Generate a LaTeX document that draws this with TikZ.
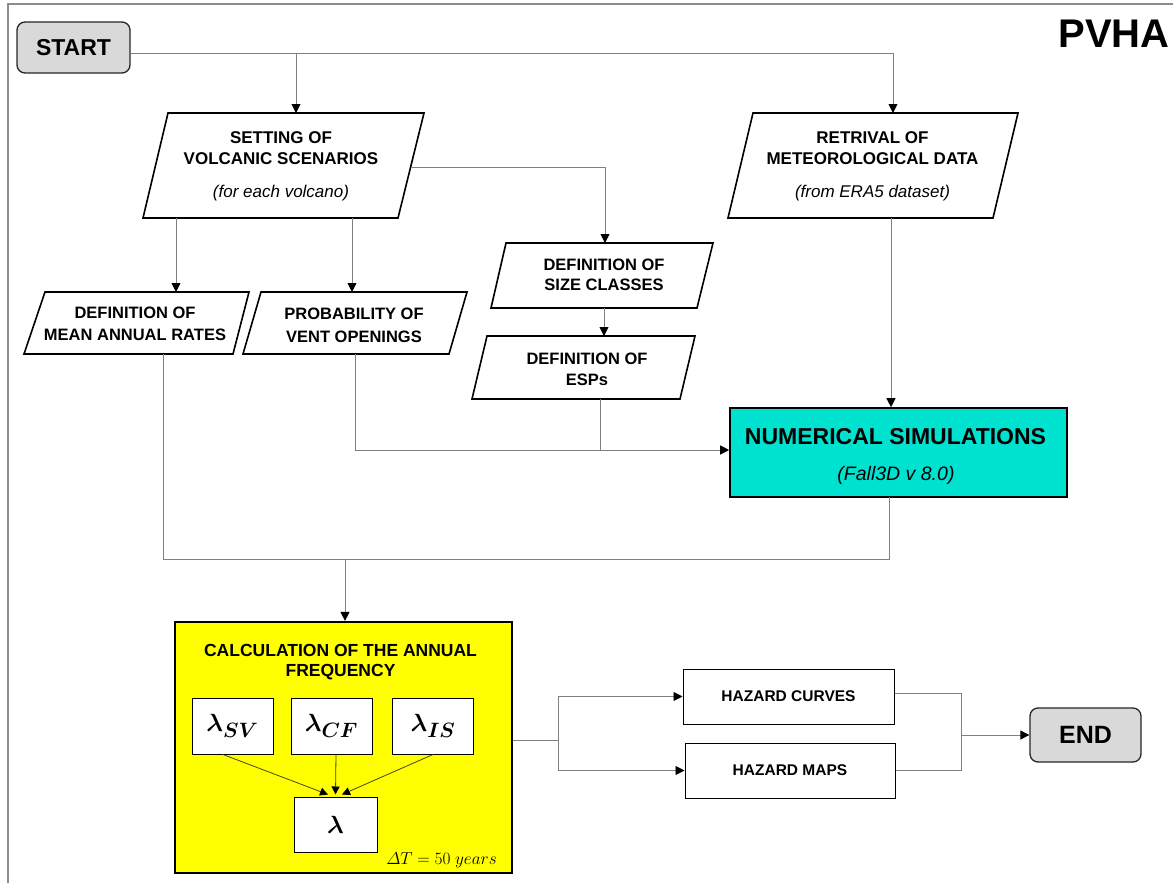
\documentclass[tikz,border=0pt]{standalone}
\usepackage{fontspec}
\setmainfont{Liberation Sans}
\usepackage{amsmath,bm}
\usetikzlibrary{arrows.meta}
\definecolor{linegray}{RGB}{128,128,128}
\definecolor{framegray}{RGB}{140,140,140}
\definecolor{boxgray}{RGB}{217,217,217}
\definecolor{turq}{RGB}{0,226,208}
\definecolor{yel}{RGB}{255,255,0}
\definecolor{olive}{RGB}{70,70,20}
\tikzset{
  conn/.style={draw=linegray, line width=0.9pt},
  arr/.style={conn, -{Triangle[length=9pt,width=9pt,color=black]}},
  iarr/.style={draw=olive, line width=0.8pt, -{Triangle[length=8pt,width=8pt,color=black]}},
  para/.style={draw=black, line width=1.6pt, line join=miter, fill=white},
  ttl/.style={align=center, inner sep=0pt, font=\bfseries\fontsize{17}{21}\selectfont},
  sub/.style={inner sep=0pt, font=\itshape\fontsize{17}{21}\selectfont},
  term/.style={draw=black!85, line width=1.3pt, fill=boxgray, rounded corners=8pt, inner sep=0pt, font=\bfseries\fontsize{23}{26}\selectfont},
  hbox/.style={draw=black, line width=1pt, fill=white, minimum width=210pt, minimum height=55pt, inner sep=0pt, font=\bfseries\fontsize{15.5}{18}\selectfont},
  lbox/.style={draw=black, line width=1pt, fill=white, minimum width=81pt, minimum height=56pt, inner sep=0pt, font=\fontsize{29}{32}\selectfont}
}
\begin{document}
\begin{tikzpicture}[x=1pt,y=-1pt]
\useasboundingbox (0,0) rectangle (1173,883);
% frame
\draw[framegray, line width=1.3pt] (8,883) -- (8,4) -- (1173,4);
% title
\node[inner sep=0pt, font=\bfseries\fontsize{40}{44}\selectfont] (pvha) at (1114,34) {PVHA};
% start
\node[term, minimum width=113pt, minimum height=51pt] (start) at (73.5,47.5) {START};
% setting parallelogram
\draw[para] (168,113) -- (424,113) -- (398,218) -- (143,218) -- cycle;
\node[ttl] (set) at (281,148.5) {SETTING OF\\VOLCANIC SCENARIOS};
\node[sub] (setsub) at (281,193) {(for each volcano)};
% retrival
\draw[para] (753,113) -- (1018,113) -- (993,218) -- (728,218) -- cycle;
\node[ttl] (ret) at (872.5,148.5) {RETRIVAL OF\\METEOROLOGICAL DATA};
\node[sub] (retsub) at (872.5,193) {(from ERA5 dataset)};
% mean annual rates
\draw[para] (45,292) -- (249,292) -- (233,354) -- (24,354) -- cycle;
\node[ttl, font=\bfseries\fontsize{16.5}{22}\selectfont] (mar) at (135,324) {DEFINITION OF\\MEAN ANNUAL RATES};
% probability
\draw[para] (261,292) -- (467,292) -- (449,354) -- (243,354) -- cycle;
\node[ttl, font=\bfseries\fontsize{16.5}{23}\selectfont] (prob) at (354,325) {PROBABILITY OF\\VENT OPENINGS};
% size classes
\draw[para] (506,243) -- (713,243) -- (697,308) -- (491,308) -- cycle;
\node[ttl, font=\bfseries\fontsize{16.5}{20.5}\selectfont] (size) at (604,275) {DEFINITION OF\\SIZE CLASSES};
% ESPs
\draw[para] (487,336) -- (695,336) -- (680,399) -- (472,399) -- cycle;
\node[ttl, font=\bfseries\fontsize{16.5}{20.5}\selectfont] (esp) at (587,369.5) {DEFINITION OF\\ESPs};
% numerical simulations
\node[draw=black, line width=1.6pt, fill=turq, minimum width=337pt, minimum height=89pt, inner sep=0pt] (num) at (898.5,452.5) {};
\node[inner sep=0pt, font=\bfseries\fontsize{23}{26}\selectfont] (numt) at (895.5,437) {NUMERICAL SIMULATIONS};
\node[inner sep=0pt, font=\itshape\fontsize{19.5}{22}\selectfont] (nums) at (896,475) {(Fall3D v 8.0)};
% calculation box
\node[draw=black, line width=2.2pt, fill=yel, minimum width=337pt, minimum height=251pt, inner sep=0pt] (calc) at (343.5,747.5) {};
\node[ttl, font=\bfseries\fontsize{17.5}{20}\selectfont] (calct) at (340.5,662) {CALCULATION OF THE ANNUAL\\FREQUENCY};
\node[lbox] (lsv) at (232.5,726) {$\bm{\lambda_{SV}}$};
\node[lbox] (lcf) at (331.5,726) {$\bm{\lambda_{CF}}$};
\node[lbox] (lis) at (433,726) {$\bm{\lambda_{IS}}$};
\node[lbox, minimum width=83pt, minimum height=55pt] (lam) at (335.5,824.5) {$\bm{\lambda}$};
\node[inner sep=0pt, font=\fontsize{16.5}{18}\selectfont] (dt) at (441.5,860) {$\varDelta T = 50\ years$};
% hazard boxes
\node[hbox, minimum width=211pt] (hc) at (788.5,696.5) {HAZARD CURVES};
\node[hbox] (hm) at (790,770.5) {HAZARD MAPS};
\node[term, minimum width=111pt, minimum height=54pt, font=\bfseries\fontsize{25}{28}\selectfont] (end) at (1085.5,735) {END};
% coordinates
\coordinate (j1) at (296,53);
\coordinate (setTop) at (296,113);
\coordinate (retTop) at (893,113);
\coordinate (setR) at (410.6,167);
\coordinate (sizeTop) at (605,243);
\coordinate (setB1) at (176,218);
\coordinate (marTop) at (176,292);
\coordinate (setB2) at (352,218);
\coordinate (probTop) at (352,292);
\coordinate (retB) at (891,218);
\coordinate (sizeB) at (604,308);
\coordinate (espTop) at (604,336);
\coordinate (espB) at (600,399);
\coordinate (j2) at (600,450);
\coordinate (probB) at (355,354);
\coordinate (marB) at (163,354);
\coordinate (numB) at (889,497);
\coordinate (j3) at (345,559);
\coordinate (j4) at (558,740);
\coordinate (j5) at (961,735);
% connectors
\draw[arr] ([yshift=-5.5pt]start.east) -| (retTop);
\draw[arr] (j1) -- (setTop);
\draw[arr] (setR) -| (sizeTop);
\draw[arr] (setB1) -- (marTop);
\draw[arr] (setB2) -- (probTop);
\draw[arr] (retB) -- (retB |- num.north);
\draw[arr] (sizeB) -- (espTop);
\draw[conn] (espB) -- (j2);
\draw[arr] (probB) |- (num.west |- j2);
\draw[conn] (marB) |- (numB |- j3) -- (numB);
\draw[arr] (j3) -- (j3 |- calc.north);
\draw[conn] (calc.east |- j4) -- (j4);
\draw[arr] (j4 |- hc.west) -- (hc.west);
\draw[arr] (j4 |- hm.west) -- (hm.west);
\draw[conn] (j4 |- hc.west) -- (j4 |- hm.west);
\draw[conn] ([yshift=3.5pt]hc.east) -| (j5 |- hm.east) -- (hm.east);
\draw[arr] (j5) -- (end.west);
% inner arrows
\draw[iarr] ([xshift=-9.5pt]lsv.south) -- ([xshift=-7.5pt,yshift=2pt]lam.north);
\draw[iarr] ([xshift=4.5pt]lcf.south) -- ([yshift=2pt]lam.north);
\draw[iarr] (lis.south) -- ([xshift=6.5pt,yshift=2pt]lam.north);
\end{tikzpicture}
\end{document}
